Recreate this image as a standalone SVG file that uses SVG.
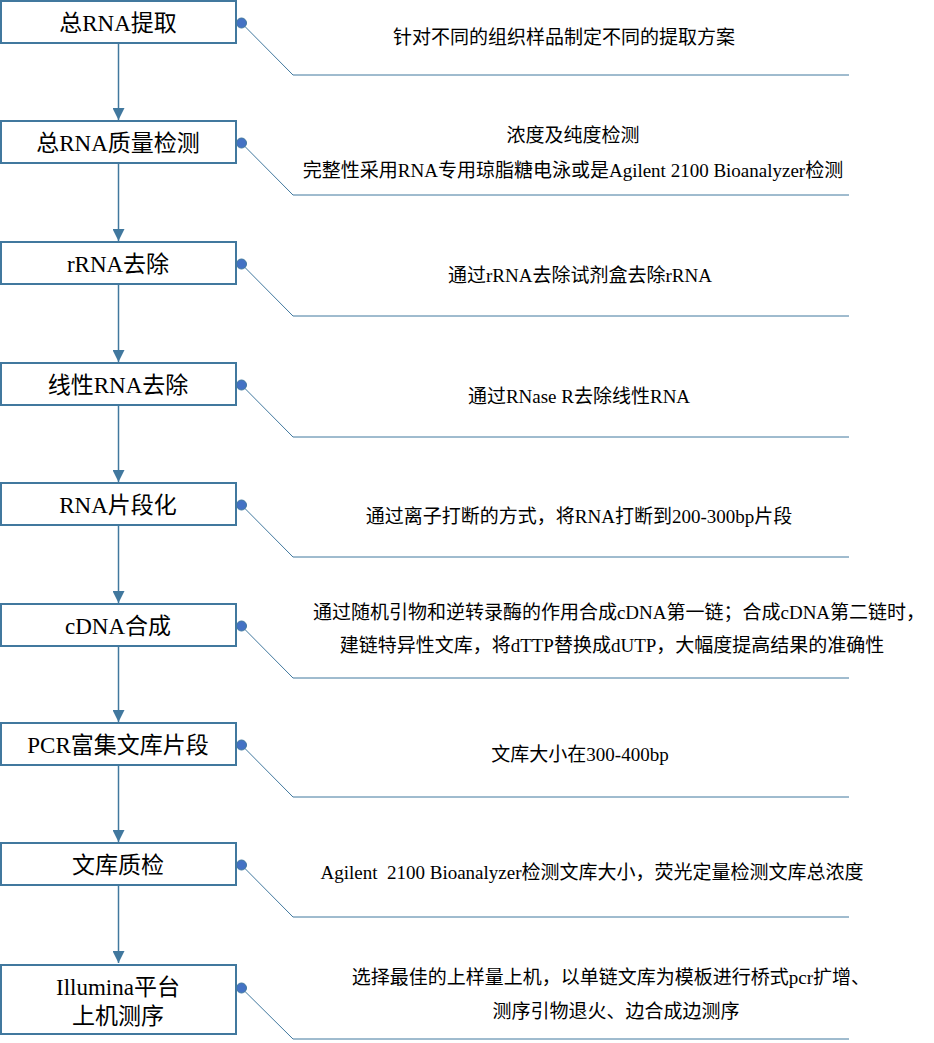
<svg xmlns="http://www.w3.org/2000/svg" width="934" height="1043" viewBox="0 0 934 1043">
<style>
.box{fill:#ffffff;stroke:#41789E;stroke-width:2}
.bt{font-family:"Liberation Serif","Noto Sans CJK SC",serif;font-size:23px;fill:#000;text-anchor:middle}
.dt{font-family:"Liberation Serif","Noto Sans CJK SC",serif;font-size:19px;fill:#000;text-anchor:middle}
.flow{stroke:#41789E;stroke-width:1.5;fill:none}
.lead{stroke:#41789E;stroke-width:1;fill:none}
.dot{fill:#4472C4;stroke:#41789E;stroke-width:1}
</style>
<defs>
<marker id="ah" markerUnits="userSpaceOnUse" markerWidth="12" markerHeight="12" refX="12" refY="6" orient="auto">
<path d="M0,0 L12,6 L0,12 z" fill="#41789E"/>
</marker>
</defs>
<rect width="934" height="1043" fill="#ffffff"/>
<g id="connectors">
<line class="flow" x1="118.5" y1="44" x2="118.5" y2="120" marker-end="url(#ah)"/>
<line class="flow" x1="118.5" y1="164" x2="118.5" y2="241" marker-end="url(#ah)"/>
<line class="flow" x1="118.5" y1="285" x2="118.5" y2="362" marker-end="url(#ah)"/>
<line class="flow" x1="118.5" y1="406" x2="118.5" y2="482" marker-end="url(#ah)"/>
<line class="flow" x1="118.5" y1="526" x2="118.5" y2="603" marker-end="url(#ah)"/>
<line class="flow" x1="118.5" y1="647" x2="118.5" y2="722" marker-end="url(#ah)"/>
<line class="flow" x1="118.5" y1="766" x2="118.5" y2="842" marker-end="url(#ah)"/>
<line class="flow" x1="118.5" y1="886" x2="118.5" y2="963" marker-end="url(#ah)"/>
<polyline class="lead" points="241.5,23 293,75 849,75"/>
<polyline class="lead" points="241.5,143 293,195 849,195"/>
<polyline class="lead" points="241.5,264 293,316 849,316"/>
<polyline class="lead" points="241.5,385 293,437 849,437"/>
<polyline class="lead" points="241.5,505 293,557 849,557"/>
<polyline class="lead" points="241.5,626 293,678 849,678"/>
<polyline class="lead" points="241.5,745 293,797 849,797"/>
<polyline class="lead" points="241.5,865 293,917 849,917"/>
<polyline class="lead" points="241.5,988 293,1039 849,1039"/>
<circle class="dot" cx="241.5" cy="23" r="5"/>
<circle class="dot" cx="241.5" cy="143" r="5"/>
<circle class="dot" cx="241.5" cy="264" r="5"/>
<circle class="dot" cx="241.5" cy="385" r="5"/>
<circle class="dot" cx="241.5" cy="505" r="5"/>
<circle class="dot" cx="241.5" cy="626" r="5"/>
<circle class="dot" cx="241.5" cy="745" r="5"/>
<circle class="dot" cx="241.5" cy="865" r="5"/>
<circle class="dot" cx="241.5" cy="988" r="5"/>
</g>
<g id="n1">
<rect class="box" x="1" y="1" width="235" height="42"/>
<text class="bt" x="118" y="31">总RNA提取</text>
<text class="dt" x="564" y="44">针对不同的组织样品制定不同的提取方案</text>
</g>
<g id="n2">
<rect class="box" x="1" y="121" width="235" height="42"/>
<text class="bt" x="118" y="151">总RNA质量检测</text>
<text class="dt" x="573" y="142">浓度及纯度检测</text>
<text class="dt" x="573" y="177">完整性采用RNA专用琼脂糖电泳或是Agilent 2100 Bioanalyzer检测</text>
</g>
<g id="n3">
<rect class="box" x="1" y="242" width="235" height="42"/>
<text class="bt" x="118" y="272">rRNA去除</text>
<text class="dt" x="580" y="282">通过rRNA去除试剂盒去除rRNA</text>
</g>
<g id="n4">
<rect class="box" x="1" y="363" width="235" height="42"/>
<text class="bt" x="118" y="393">线性RNA去除</text>
<text class="dt" x="579" y="403">通过RNase R去除线性RNA</text>
</g>
<g id="n5">
<rect class="box" x="1" y="483" width="235" height="42"/>
<text class="bt" x="118" y="513">RNA片段化</text>
<text class="dt" x="579" y="523">通过离子打断的方式，将RNA打断到200-300bp片段</text>
</g>
<g id="n6">
<rect class="box" x="1" y="604" width="235" height="42"/>
<text class="bt" x="118" y="634">cDNA合成</text>
<text class="dt" x="619" y="619">通过随机引物和逆转录酶的作用合成cDNA第一链；合成cDNA第二链时，</text>
<text class="dt" x="612" y="652">建链特异性文库，将dTTP替换成dUTP，大幅度提高结果的准确性</text>
</g>
<g id="n7">
<rect class="box" x="1" y="723" width="235" height="42"/>
<text class="bt" x="118" y="753">PCR富集文库片段</text>
<text class="dt" x="580" y="761">文库大小在300-400bp</text>
</g>
<g id="n8">
<rect class="box" x="1" y="843" width="235" height="42"/>
<text class="bt" x="118" y="873">文库质检</text>
<text class="dt" x="592" y="879">Agilent&#160; 2100 Bioanalyzer检测文库大小，荧光定量检测文库总浓度</text>
</g>
<g id="n9">
<rect class="box" x="1" y="965" width="235" height="69"/>
<text class="bt" x="118" y="995">Illumina平台</text>
<text class="bt" x="118" y="1024">上机测序</text>
<text class="dt" x="611" y="984">选择最佳的上样量上机，以单链文库为模板进行桥式pcr扩增、</text>
<text class="dt" x="616" y="1018">测序引物退火、边合成边测序</text>
</g>
</svg>
